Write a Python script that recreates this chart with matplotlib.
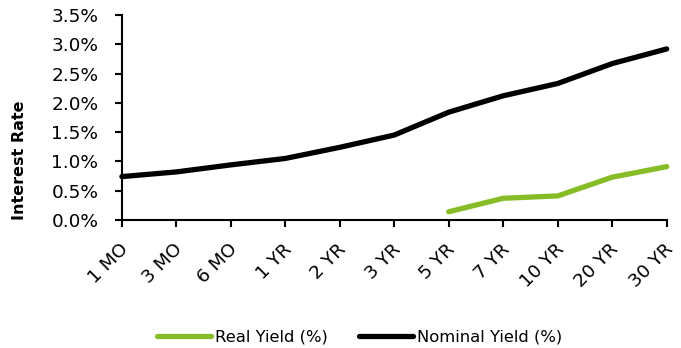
import matplotlib.pyplot as plt
from matplotlib.ticker import FuncFormatter
from matplotlib.transforms import ScaledTranslation

maturities = ['1 MO', '3 MO', '6 MO', '1 YR', '2 YR', '3 YR', '5 YR', '7 YR', '10 YR', '20 YR', '30 YR']
nominal_yield = [0.74, 0.82, 0.94, 1.05, 1.24, 1.45, 1.84, 2.12, 2.33, 2.67, 2.92]
real_yield = [None, None, None, None, None, None, 0.14, 0.37, 0.41, 0.73, 0.91]

x = list(range(len(maturities)))
real_x = [i for i, v in zip(x, real_yield) if v is not None]
real_v = [v for v in real_yield if v is not None]

plt.rcParams['font.family'] = ['Verdana', 'DejaVu Sans']

fig = plt.figure(figsize=(6.81, 3.48), dpi=100)
ax = fig.add_axes([0.179, 0.368, 0.800, 0.589])

ax.plot(real_x, real_v, color='#86BC25', lw=3.8, solid_capstyle='round', label='Real Yield (%)')
ax.plot(x, nominal_yield, color='black', lw=3.8, solid_capstyle='round', label='Nominal Yield (%)')

ax.set_xlim(0, len(maturities) - 1)
ax.set_ylim(0, 3.5)
ax.set_yticks([i * 0.5 for i in range(8)])
ax.yaxis.set_major_formatter(FuncFormatter(lambda v, p: f'{v:.1f}%'))
ax.set_xticks(x)
ax.set_xticklabels(maturities, rotation=45, ha='right', rotation_mode='anchor')

for s in ['top', 'right']:
    ax.spines[s].set_visible(False)
for s in ['left', 'bottom']:
    ax.spines[s].set_linewidth(1.5)
ax.tick_params(axis='both', labelsize=13.3, width=1.5, length=5, colors='black')
ax.tick_params(axis='y', pad=12)
ax.tick_params(axis='x', pad=4)
offset = ScaledTranslation(-0.03, -0.08, fig.dpi_scale_trans)
for lbl in ax.get_xticklabels():
    lbl.set_transform(lbl.get_transform() + offset)

ax.set_ylabel('Interest Rate', fontsize=11.5, fontweight='bold')
ax.yaxis.set_label_coords(-0.175, 0.29)

for line in ax.lines:
    line.set_clip_on(False)

fig.legend(loc='center', bbox_to_anchor=(0.528, 0.032), ncol=2, frameon=False,
           fontsize=11.8, handlelength=3.3, handletextpad=0.25, columnspacing=1.9)

fig.savefig('out.png', dpi=100)
